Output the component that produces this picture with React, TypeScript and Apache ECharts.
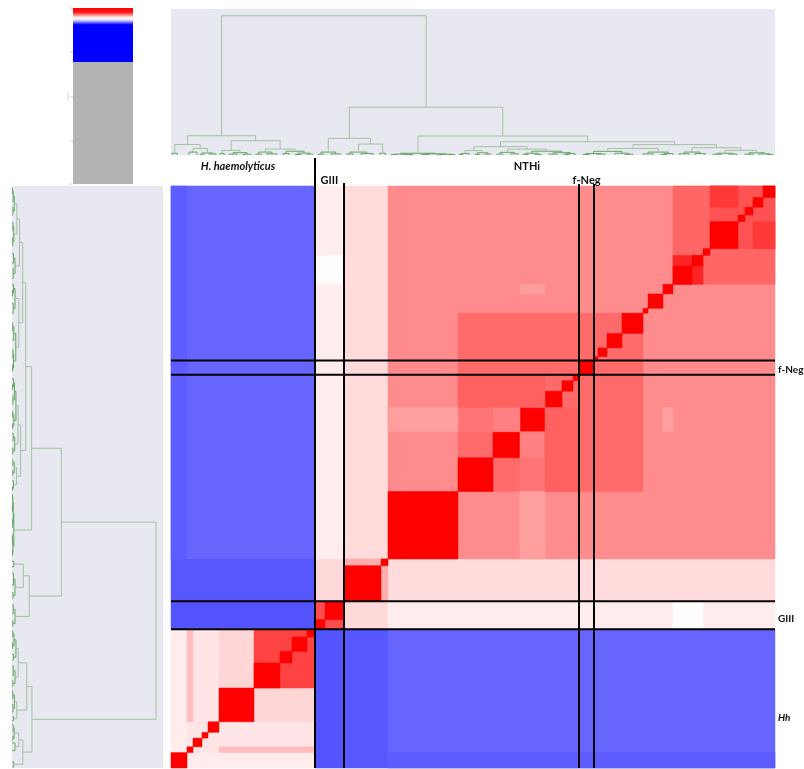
import React, { useEffect, useRef } from "react";
import * as echarts from "echarts";

// ---------- DATA ----------
const UNITS = 151; // strain-order axis length (same order on rows and columns)

const groupNames = ["Hh", "GIII", "S-cluster", "NTHi"];
const groupBounds = [0, 36, 43.25, 54.25, 151];
const groupSimilarity = [
  [0.535, 0.165, 0.17, 0.2],
  [0.165, 0.85, 0.575, 0.535],
  [0.17, 0.575, 0.66, 0.57],
  [0.2, 0.535, 0.57, 0.725],
];

// diagonal clusters [from, to, similarity], outer first
const clusters: [number, number, number][] = [
  [0, 36, 0.535],
  [4, 36, 0.55],
  [12, 36, 0.58],
  [0, 4, 1],
  [4, 5.5, 1],
  [5.5, 7.75, 1],
  [7.75, 9.25, 1],
  [9.25, 12, 1],
  [12, 20.75, 1],
  [20.75, 36, 0.87],
  [20.75, 27.25, 1],
  [27.25, 30.25, 1],
  [30.25, 34, 1],
  [34, 36, 1],
  [36, 43.25, 0.85],
  [36, 38.5, 1],
  [38.5, 43.25, 1],
  [43.25, 54.25, 0.66],
  [43.25, 52.5, 1],
  [52.5, 54.25, 1],
  [54.25, 71.75, 1],
  [71.75, 118, 0.79],
  [71.75, 80.5, 1],
  [80.5, 87.25, 1],
  [87.25, 93.5, 1],
  [93.5, 97.75, 1],
  [97.75, 100.5, 1],
  [100.5, 102, 1],
  [102, 105.75, 1],
  [105.75, 106.75, 1],
  [106.75, 109, 1],
  [109, 112.75, 1],
  [112.75, 118, 1],
  [118, 119.25, 1],
  [119.25, 123, 1],
  [123, 125.5, 1],
  [125.5, 151, 0.8],
  [125.5, 133, 0.93],
  [125.5, 130.25, 1],
  [130.25, 133, 1],
  [133, 134.75, 1],
  [134.75, 151, 0.84],
  [134.75, 141.75, 1],
  [141.75, 143.5, 1],
  [143.5, 145.5, 1],
  [145.5, 148, 1],
  [148, 151, 1],
];

// off-diagonal block pairs [aFrom, aTo, bFrom, bTo, similarity] (mirrored)
const crossBlocks: [number, number, number, number, number][] = [
  [4, 5.5, 12, 36, 0.63],
  [0, 4, 54.25, 151, 0.18],
  [36, 43.25, 125.5, 133, 0.505],
  [87.25, 93.5, 80.5, 87.25, 0.75],
  [87.25, 93.5, 71.75, 80.5, 0.77],
  [93.5, 102, 71.75, 93.5, 0.81],
  [54.25, 71.75, 87.25, 93.5, 0.69],
  [87.25, 93.5, 123, 125.5, 0.69],
  [134.75, 141.75, 145.5, 151, 0.89],
];

const separators = [36, 43.25, 102, 105.75];
const separatorExtend = [28, 3, 2, 2];

const topLabels = [
  { text: "H. haemolyticus", unit: 16.75, line: 0, italic: true },
  { text: "NTHi", unit: 89, line: 0, italic: false },
  { text: "GIII", unit: 39.6, line: 1, italic: false },
  { text: "f-Neg", unit: 103.9, line: 1, italic: false },
];
const sideLabels = [
  { text: "f-Neg", unit: 103.6, italic: false },
  { text: "GIII", unit: 38.8, italic: false },
  { text: "Hh", unit: 13.2, italic: true },
];

// dendrogram: [height, left, right] or leaf position
type TreeNode = number | [number, TreeNode, TreeNode];
const hhTree: TreeNode = [0.132,
  [0.072, [0.012, 0.3, 1.6], [0.045, [0.02, 4.5, 6.5], [0.014, [0.006, 7.3, 8.2], [0.008, 9.6, 11.2]]]],
  [0.098,
    [0.031, [0.01, 12.3, 13.3], [0.016, [0.006, 14.5, 16.5], [0.005, 18, 20]]],
    [0.041, [0.02, [0.006, 21.2, 22.6], [0.008, 24, 26.5]], [0.026, [0.01, 28, 29.5], [0.013, [0.004, 31, 32.5], [0.006, 34, 35.5]]]]]];
const giiiTree: TreeNode = [0.02, [0.006, 36.8, 38.2], [0.008, 40, 42.3]];
const sTree: TreeNode = [0.075, [0.02, [0.007, 44, 45.5], [0.01, 47.5, 50.5]], [0.012, 52.2, 53.6]];
const nthiBlockTree: TreeNode = [0.012, [0.006, [0.003, 55, 56.5], [0.004, 58, [0.002, 59.5, 60.5]]], [0.008, [0.004, 62.5, 64.5], [0.005, [0.002, 66.5, 68], [0.003, 69.5, 71]]]];
const nthiMidTree: TreeNode = [0.057,
  [0.03, [0.01, [0.003, 72, 73], 74.5], [0.015, [0.005, 76, 77.2], [0.006, 78.5, 80]]],
  [0.04, [0.018, [0.006, 81.5, 83], [0.008, 85, 86.8]], [0.026, [0.012, [0.004, 88, 89.3], [0.005, 91, 92.5]], [0.016, [0.006, 94.5, 96.5], [0.01, [0.003, 98.2, 99.5], 101]]]]];
const nthiUpperTree: TreeNode = [0.071,
  [0.045, [0.025, [0.01, [0.004, 103, 104.5], [0.006, 106.5, 108.5]], [0.012, 111, [0.005, 113.5, 115.5]]], [0.02, [0.008, 118, 120.5], [0.01, [0.004, 122.5, 124], 125.5]]],
  [0.05, [0.02, [0.008, 127, 129.5], [0.01, 131, 133.5]], [0.032, [0.012, [0.005, 135.5, 137.5], [0.006, 139.5, 141.5]], [0.015, [0.006, 143.5, 145.5], [0.008, 147, [0.003, 149, 150.5]]]]]];
const dendroTree: TreeNode = [0.954, hhTree, [0.327, [0.114, giiiTree, sTree], [0.13, nthiBlockTree, [0.091, nthiMidTree, nthiUpperTree]]]];

// ---------- BUILD ----------
function buildRects() {
  const rects: number[][] = [];
  for (let i = 0; i < groupNames.length; i++)
    for (let j = 0; j < groupNames.length; j++)
      rects.push([groupBounds[i], groupBounds[i + 1], groupBounds[j], groupBounds[j + 1], groupSimilarity[i][j]]);
  clusters.forEach(([f, t, v]) => rects.push([f, t, f, t, v]));
  crossBlocks.forEach(([a0, a1, b0, b1, v]) => {
    rects.push([a0, a1, b0, b1, v]);
    rects.push([b0, b1, a0, a1, v]);
  });
  return rects;
}

function layoutTree(node: TreeNode, out: number[][]): { c: number; h: number } {
  if (typeof node === "number") return { c: node, h: 0 };
  const [h, l, r] = node;
  const a = layoutTree(l, out);
  const b = layoutTree(r, out);
  out.push([a.c, b.c, h, a.h, b.h]);
  return { c: (a.c + b.c) / 2, h };
}

const LINE_HI = "#a3c2a3";
const LINE_LO = "#62a862";

function dendroRender(swap: boolean) {
  return (params: any, api: any) => {
    const cl = api.value(0), cr = api.value(1), h = api.value(2), hl = api.value(3), hr = api.value(4);
    const pts = [[cl, hl], [cl, h], [cr, h], [cr, hr]].map((p) => api.coord(swap ? [p[1], p[0]] : p));
    return {
      type: "polyline",
      shape: { points: pts },
      style: { stroke: h < 0.03 ? LINE_LO : LINE_HI, lineWidth: 1, fill: "none" },
      silent: true,
    };
  };
}

export default function App() {
  const ref = useRef<HTMLDivElement>(null);
  useEffect(() => {
    if (!ref.current) return;
    const chart = echarts.init(ref.current, undefined, { renderer: "svg" });
    const rects = buildRects();
    const links: number[][] = [];
    layoutTree(dendroTree, links);
    const panelBg = "#e8e8f0";

    chart.setOption({
      animation: false,
      grid: [
        { left: 171, top: 186, width: 604, height: 582, show: false },
        { left: 171, top: 9, width: 604, height: 146, show: true, backgroundColor: panelBg, borderWidth: 0 },
        { left: 12, top: 186, width: 151, height: 582, show: true, backgroundColor: panelBg, borderWidth: 0 },
      ],
      xAxis: [
        { type: "value", gridIndex: 0, min: 0, max: UNITS, show: false },
        { type: "value", gridIndex: 1, min: 0, max: UNITS, show: false },
        { type: "value", gridIndex: 2, min: 0, max: 1, show: false },
      ],
      yAxis: [
        { type: "value", gridIndex: 0, min: 0, max: UNITS, show: false },
        { type: "value", gridIndex: 1, min: 0, max: 1, show: false },
        { type: "value", gridIndex: 2, min: 0, max: UNITS, show: false },
      ],
      visualMap: {
        type: "continuous",
        show: false,
        min: 0,
        max: 1,
        dimension: 4,
        seriesIndex: 0,
        inRange: { color: ["#0000ff", "#ffffff", "#ff0000"] },
      },
      series: [
        {
          type: "custom",
          xAxisIndex: 0,
          yAxisIndex: 0,
          data: rects,
          encode: { x: [0, 1], y: [2, 3] },
          silent: true,
          renderItem: (params: any, api: any) => {
            const p0 = api.coord([api.value(0), api.value(3)]);
            const p1 = api.coord([api.value(1), api.value(2)]);
            const color = api.visual("color");
            return {
              type: "rect",
              shape: { x: p0[0], y: p0[1], width: p1[0] - p0[0], height: p1[1] - p0[1] },
              style: { fill: color, stroke: color, lineWidth: 0.5 },
            };
          },
        },
        {
          type: "custom",
          xAxisIndex: 1,
          yAxisIndex: 1,
          data: links,
          encode: { x: [0, 1], y: [2] },
          renderItem: dendroRender(false),
        },
        {
          type: "custom",
          xAxisIndex: 2,
          yAxisIndex: 2,
          data: links,
          encode: { x: [2], y: [0, 1] },
          renderItem: dendroRender(true),
        },
      ],
    });

    const px = (u: number, v: number) => chart.convertToPixel({ gridIndex: 0 } as any, [u, v]) as number[];
    const elements: any[] = [];
    // colour key
    elements.push({
      type: "rect",
      shape: { x: 73, y: 8, width: 60, height: 54 },
      style: {
        fill: new echarts.graphic.LinearGradient(0, 0, 0, 1, [
          { offset: 0, color: "#ff0000" },
          { offset: 0.08, color: "#ff1a1a" },
          { offset: 0.16, color: "#ffd0d0" },
          { offset: 0.2, color: "#ffffff" },
          { offset: 0.24, color: "#b8b8ff" },
          { offset: 0.31, color: "#0000ff" },
          { offset: 1, color: "#0000ff" },
        ]),
      },
      silent: true,
    });
    elements.push({ type: "rect", shape: { x: 73, y: 62, width: 60, height: 122 }, style: { fill: "#b3b3b3" }, silent: true });
    [8, 52, 97, 141, 184].forEach((y) =>
      elements.push({ type: "line", shape: { x1: 70, y1: y, x2: 73, y2: y }, style: { stroke: "#cfcfcf", lineWidth: 1 }, silent: true })
    );
    elements.push({ type: "line", shape: { x1: 68, y1: 92, x2: 68, y2: 101 }, style: { stroke: "#d8d8d8", lineWidth: 1 }, silent: true });

    // separator lines
    const gTop = px(0, UNITS)[1];
    separators.forEach((u, i) => {
      const a = px(u, UNITS);
      const b = px(u, 0);
      elements.push({ type: "line", shape: { x1: a[0], y1: a[1] - separatorExtend[i], x2: b[0], y2: b[1] }, style: { stroke: "#000", lineWidth: 2 }, silent: true, z: 10 });
      const c = px(0, u);
      const d = px(UNITS, u);
      elements.push({ type: "line", shape: { x1: c[0], y1: c[1], x2: d[0], y2: d[1] }, style: { stroke: "#000", lineWidth: 2 }, silent: true, z: 10 });
    });

    // labels
    topLabels.forEach((l) => {
      const p = px(l.unit, UNITS);
      elements.push({
        type: "text",
        style: {
          text: l.text,
          x: p[0],
          y: gTop - (l.line === 0 ? 21 : 7),
          font: `${l.italic ? "italic " : ""}bold 11px Lato`,
          fill: "#111",
          textAlign: "center",
          textVerticalAlign: "middle",
        },
        silent: true,
        z: 11,
      });
    });
    sideLabels.forEach((l) => {
      const p = px(UNITS, l.unit);
      elements.push({
        type: "text",
        style: {
          text: l.text,
          x: p[0] + 3,
          y: p[1],
          font: `${l.italic ? "italic " : ""}bold 10px Lato`,
          fill: "#111",
          textAlign: "left",
          textVerticalAlign: "middle",
        },
        silent: true,
        z: 11,
      });
    });

    chart.setOption({ graphic: { elements } });
    return () => chart.dispose();
  }, []);

  return <div ref={ref} style={{ position: "fixed", left: 0, top: 0, width: 804, height: 769 }} />;
}
